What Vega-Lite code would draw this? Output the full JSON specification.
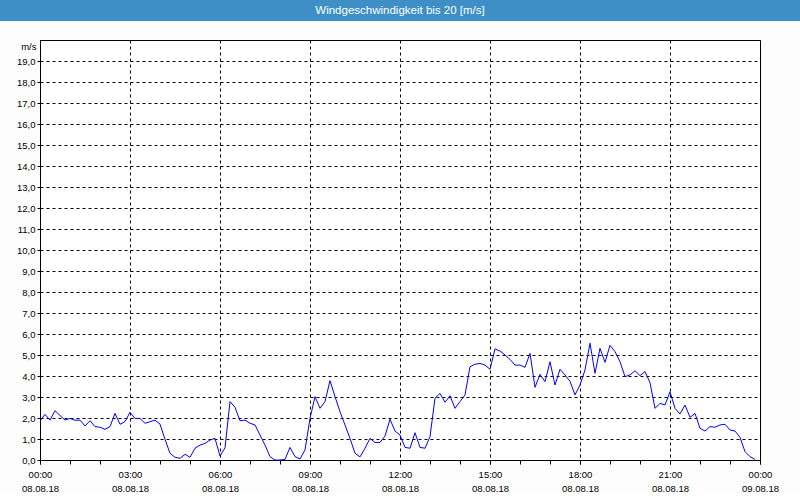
{
  "$schema": "https://vega.github.io/schema/vega-lite/v6.json",
  "background": "#FCFDFC",
  "padding": 0,
  "spacing": 19,
  "bounds": "flush",
  "center": true,
  "config": {"view": {"stroke": null}, "font": "Liberation Sans"},
  "vconcat": [
    {
      "width": 800,
      "height": 21,
      "view": {"fill": "#3D8FC6", "stroke": null},
      "data": {"values": [{"label": "Windgeschwindigkeit bis 20 [m/s]"}]},
      "mark": {"type": "text", "color": "#FFFFFF", "font": "Liberation Sans", "fontSize": 11.5},
      "encoding": {"text": {"field": "label", "type": "nominal"}}
    },
    {
      "width": 720,
      "height": 420,
      "view": {"fill": "#FFFFFF", "stroke": "#000000", "strokeWidth": 1},
      "data": {"values": [
        {"time": "2018-08-08T00:00:00Z", "speed": 1.86},
        {"time": "2018-08-08T00:10:00Z", "speed": 2.17},
        {"time": "2018-08-08T00:20:00Z", "speed": 1.90},
        {"time": "2018-08-08T00:30:00Z", "speed": 2.35},
        {"time": "2018-08-08T00:40:00Z", "speed": 2.12},
        {"time": "2018-08-08T00:50:00Z", "speed": 1.90},
        {"time": "2018-08-08T01:00:00Z", "speed": 1.98},
        {"time": "2018-08-08T01:10:00Z", "speed": 1.89},
        {"time": "2018-08-08T01:20:00Z", "speed": 1.90},
        {"time": "2018-08-08T01:30:00Z", "speed": 1.62},
        {"time": "2018-08-08T01:40:00Z", "speed": 1.87},
        {"time": "2018-08-08T01:50:00Z", "speed": 1.59},
        {"time": "2018-08-08T02:00:00Z", "speed": 1.56},
        {"time": "2018-08-08T02:10:00Z", "speed": 1.46},
        {"time": "2018-08-08T02:20:00Z", "speed": 1.59},
        {"time": "2018-08-08T02:30:00Z", "speed": 2.22},
        {"time": "2018-08-08T02:40:00Z", "speed": 1.70},
        {"time": "2018-08-08T02:50:00Z", "speed": 1.83},
        {"time": "2018-08-08T03:00:00Z", "speed": 2.27},
        {"time": "2018-08-08T03:10:00Z", "speed": 1.98},
        {"time": "2018-08-08T03:20:00Z", "speed": 1.98},
        {"time": "2018-08-08T03:30:00Z", "speed": 1.75},
        {"time": "2018-08-08T03:40:00Z", "speed": 1.82},
        {"time": "2018-08-08T03:50:00Z", "speed": 1.90},
        {"time": "2018-08-08T04:00:00Z", "speed": 1.71},
        {"time": "2018-08-08T04:10:00Z", "speed": 0.98},
        {"time": "2018-08-08T04:20:00Z", "speed": 0.32},
        {"time": "2018-08-08T04:30:00Z", "speed": 0.13},
        {"time": "2018-08-08T04:40:00Z", "speed": 0.08},
        {"time": "2018-08-08T04:50:00Z", "speed": 0.27},
        {"time": "2018-08-08T05:00:00Z", "speed": 0.13},
        {"time": "2018-08-08T05:10:00Z", "speed": 0.56},
        {"time": "2018-08-08T05:20:00Z", "speed": 0.71},
        {"time": "2018-08-08T05:30:00Z", "speed": 0.79},
        {"time": "2018-08-08T05:40:00Z", "speed": 0.95},
        {"time": "2018-08-08T05:50:00Z", "speed": 1.03},
        {"time": "2018-08-08T06:00:00Z", "speed": 0.19},
        {"time": "2018-08-08T06:10:00Z", "speed": 0.58},
        {"time": "2018-08-08T06:20:00Z", "speed": 2.78},
        {"time": "2018-08-08T06:30:00Z", "speed": 2.51},
        {"time": "2018-08-08T06:40:00Z", "speed": 1.87},
        {"time": "2018-08-08T06:50:00Z", "speed": 1.90},
        {"time": "2018-08-08T07:00:00Z", "speed": 1.75},
        {"time": "2018-08-08T07:10:00Z", "speed": 1.67},
        {"time": "2018-08-08T07:20:00Z", "speed": 1.19},
        {"time": "2018-08-08T07:30:00Z", "speed": 0.71},
        {"time": "2018-08-08T07:40:00Z", "speed": 0.16},
        {"time": "2018-08-08T07:50:00Z", "speed": 0.0},
        {"time": "2018-08-08T08:00:00Z", "speed": 0.0},
        {"time": "2018-08-08T08:10:00Z", "speed": 0.03},
        {"time": "2018-08-08T08:20:00Z", "speed": 0.60},
        {"time": "2018-08-08T08:30:00Z", "speed": 0.16},
        {"time": "2018-08-08T08:40:00Z", "speed": 0.05},
        {"time": "2018-08-08T08:50:00Z", "speed": 0.48},
        {"time": "2018-08-08T09:00:00Z", "speed": 1.98},
        {"time": "2018-08-08T09:10:00Z", "speed": 3.02},
        {"time": "2018-08-08T09:20:00Z", "speed": 2.46},
        {"time": "2018-08-08T09:30:00Z", "speed": 2.78},
        {"time": "2018-08-08T09:40:00Z", "speed": 3.78},
        {"time": "2018-08-08T09:50:00Z", "speed": 3.02},
        {"time": "2018-08-08T10:00:00Z", "speed": 2.30},
        {"time": "2018-08-08T10:10:00Z", "speed": 1.67},
        {"time": "2018-08-08T10:20:00Z", "speed": 1.03},
        {"time": "2018-08-08T10:30:00Z", "speed": 0.32},
        {"time": "2018-08-08T10:40:00Z", "speed": 0.15},
        {"time": "2018-08-08T10:50:00Z", "speed": 0.56},
        {"time": "2018-08-08T11:00:00Z", "speed": 1.03},
        {"time": "2018-08-08T11:10:00Z", "speed": 0.83},
        {"time": "2018-08-08T11:20:00Z", "speed": 0.84},
        {"time": "2018-08-08T11:30:00Z", "speed": 1.14},
        {"time": "2018-08-08T11:40:00Z", "speed": 1.94},
        {"time": "2018-08-08T11:50:00Z", "speed": 1.38},
        {"time": "2018-08-08T12:00:00Z", "speed": 1.19},
        {"time": "2018-08-08T12:10:00Z", "speed": 0.60},
        {"time": "2018-08-08T12:20:00Z", "speed": 0.56},
        {"time": "2018-08-08T12:30:00Z", "speed": 1.30},
        {"time": "2018-08-08T12:40:00Z", "speed": 0.60},
        {"time": "2018-08-08T12:50:00Z", "speed": 0.56},
        {"time": "2018-08-08T13:00:00Z", "speed": 1.11},
        {"time": "2018-08-08T13:10:00Z", "speed": 2.94},
        {"time": "2018-08-08T13:20:00Z", "speed": 3.17},
        {"time": "2018-08-08T13:30:00Z", "speed": 2.75},
        {"time": "2018-08-08T13:40:00Z", "speed": 3.06},
        {"time": "2018-08-08T13:50:00Z", "speed": 2.46},
        {"time": "2018-08-08T14:00:00Z", "speed": 2.78},
        {"time": "2018-08-08T14:10:00Z", "speed": 3.10},
        {"time": "2018-08-08T14:20:00Z", "speed": 4.44},
        {"time": "2018-08-08T14:30:00Z", "speed": 4.56},
        {"time": "2018-08-08T14:40:00Z", "speed": 4.60},
        {"time": "2018-08-08T14:50:00Z", "speed": 4.52},
        {"time": "2018-08-08T15:00:00Z", "speed": 4.32},
        {"time": "2018-08-08T15:10:00Z", "speed": 5.29},
        {"time": "2018-08-08T15:20:00Z", "speed": 5.19},
        {"time": "2018-08-08T15:30:00Z", "speed": 5.00},
        {"time": "2018-08-08T15:40:00Z", "speed": 4.79},
        {"time": "2018-08-08T15:50:00Z", "speed": 4.52},
        {"time": "2018-08-08T16:00:00Z", "speed": 4.52},
        {"time": "2018-08-08T16:10:00Z", "speed": 4.41},
        {"time": "2018-08-08T16:20:00Z", "speed": 5.08},
        {"time": "2018-08-08T16:30:00Z", "speed": 3.46},
        {"time": "2018-08-08T16:40:00Z", "speed": 4.08},
        {"time": "2018-08-08T16:50:00Z", "speed": 3.73},
        {"time": "2018-08-08T17:00:00Z", "speed": 4.68},
        {"time": "2018-08-08T17:10:00Z", "speed": 3.57},
        {"time": "2018-08-08T17:20:00Z", "speed": 4.32},
        {"time": "2018-08-08T17:30:00Z", "speed": 4.05},
        {"time": "2018-08-08T17:40:00Z", "speed": 3.75},
        {"time": "2018-08-08T17:50:00Z", "speed": 3.10},
        {"time": "2018-08-08T18:00:00Z", "speed": 3.57},
        {"time": "2018-08-08T18:10:00Z", "speed": 4.29},
        {"time": "2018-08-08T18:20:00Z", "speed": 5.56},
        {"time": "2018-08-08T18:30:00Z", "speed": 4.13},
        {"time": "2018-08-08T18:40:00Z", "speed": 5.32},
        {"time": "2018-08-08T18:50:00Z", "speed": 4.65},
        {"time": "2018-08-08T19:00:00Z", "speed": 5.46},
        {"time": "2018-08-08T19:10:00Z", "speed": 5.16},
        {"time": "2018-08-08T19:20:00Z", "speed": 4.68},
        {"time": "2018-08-08T19:30:00Z", "speed": 3.97},
        {"time": "2018-08-08T19:40:00Z", "speed": 4.05},
        {"time": "2018-08-08T19:50:00Z", "speed": 4.25},
        {"time": "2018-08-08T20:00:00Z", "speed": 4.02},
        {"time": "2018-08-08T20:10:00Z", "speed": 4.21},
        {"time": "2018-08-08T20:20:00Z", "speed": 3.68},
        {"time": "2018-08-08T20:30:00Z", "speed": 2.46},
        {"time": "2018-08-08T20:40:00Z", "speed": 2.70},
        {"time": "2018-08-08T20:50:00Z", "speed": 2.62},
        {"time": "2018-08-08T21:00:00Z", "speed": 3.25},
        {"time": "2018-08-08T21:10:00Z", "speed": 2.46},
        {"time": "2018-08-08T21:20:00Z", "speed": 2.19},
        {"time": "2018-08-08T21:30:00Z", "speed": 2.62},
        {"time": "2018-08-08T21:40:00Z", "speed": 2.03},
        {"time": "2018-08-08T21:50:00Z", "speed": 2.22},
        {"time": "2018-08-08T22:00:00Z", "speed": 1.51},
        {"time": "2018-08-08T22:10:00Z", "speed": 1.38},
        {"time": "2018-08-08T22:20:00Z", "speed": 1.59},
        {"time": "2018-08-08T22:30:00Z", "speed": 1.56},
        {"time": "2018-08-08T22:40:00Z", "speed": 1.67},
        {"time": "2018-08-08T22:50:00Z", "speed": 1.70},
        {"time": "2018-08-08T23:00:00Z", "speed": 1.43},
        {"time": "2018-08-08T23:10:00Z", "speed": 1.38},
        {"time": "2018-08-08T23:20:00Z", "speed": 1.08},
        {"time": "2018-08-08T23:30:00Z", "speed": 0.40},
        {"time": "2018-08-08T23:40:00Z", "speed": 0.16},
        {"time": "2018-08-08T23:50:00Z", "speed": 0.03}
      ]},
      "encoding": {
        "y": {
          "field": "speed",
          "type": "quantitative",
          "scale": {"domain": [0, 20], "nice": false},
          "axis": {
            "values": [0, 1, 2, 3, 4, 5, 6, 7, 8, 9, 10, 11, 12, 13, 14, 15, 16, 17, 18, 19],
            "domain": false,
            "tickSize": 3,
            "tickColor": "#000000",
            "grid": true,
            "gridColor": "#000000",
            "gridDash": [3, 3],
            "labelExpr": "replace(format(datum.value, '.1f'), '.', ',')",
            "labelFont": "Liberation Sans",
            "labelFontSize": 9.5,
            "labelColor": "#000000",
            "labelPadding": 2,
            "title": "m/s",
            "titleAngle": 0,
            "titleAlign": "right",
            "titleBaseline": "middle",
            "titleX": -4,
            "titleY": 6,
            "titleFont": "Liberation Sans",
            "titleFontSize": 9.5,
            "titleFontWeight": "normal",
            "titleColor": "#000000"
          }
        }
      },
      "layer": [
        {
          "mark": {"type": "line", "strokeOpacity": 0},
          "encoding": {
            "x": {
              "field": "time",
              "type": "temporal",
              "axis": {
                "orient": "bottom",
                "title": null,
                "domain": false,
                "grid": false,
                "tickCount": 24,
                "tickSize": 4,
                "tickColor": "#000000",
                "labels": false
              }
            }
          }
        },
        {
          "mark": {"type": "line", "strokeOpacity": 0},
          "encoding": {
            "x": {
              "field": "time",
              "type": "temporal",
              "axis": {
                "orient": "bottom",
                "title": null,
                "domain": false,
                "grid": false,
                "ticks": false,
                "tickSize": 0,
                "tickCount": 8,
                "labelExpr": "utcFormat(datum.value, '%d.%m.%y')",
                "labelFont": "Liberation Sans",
                "labelFontSize": 9.5,
                "labelColor": "#000000",
                "labelPadding": 23,
                "labelOverlap": false,
                "labelFlush": false,
                "labelBound": false
              }
            }
          }
        },
        {
          "mark": {"type": "line", "color": "#0000FF", "strokeWidth": 1, "interpolate": "linear"},
          "encoding": {
            "x": {
              "field": "time",
              "type": "temporal",
              "scale": {
                "type": "utc",
                "domain": [
                  {"year": 2018, "month": 8, "date": 8, "hours": 0, "utc": true},
                  {"year": 2018, "month": 8, "date": 9, "hours": 0, "utc": true}
                ],
                "nice": false
              },
              "axis": {
                "orient": "bottom",
                "title": null,
                "domain": false,
                "tickCount": 8,
                "tickSize": 4,
                "tickColor": "#000000",
                "grid": true,
                "gridColor": "#000000",
                "gridDash": [3, 3],
                "labelExpr": "utcFormat(datum.value, '%H:%M')",
                "labelFont": "Liberation Sans",
                "labelFontSize": 9.5,
                "labelColor": "#000000",
                "labelPadding": 5,
                "labelOverlap": false,
                "labelFlush": false,
                "labelBound": false
              }
            }
          }
        }
      ],
      "resolve": {"axis": {"x": "independent"}}
    }
  ]
}
